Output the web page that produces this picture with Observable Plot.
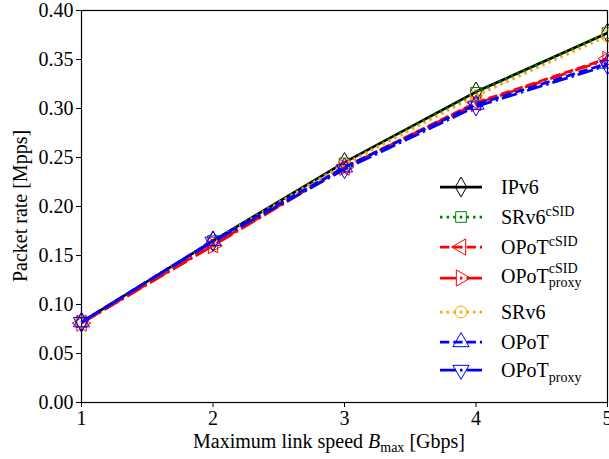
<!DOCTYPE html>
<html><head><meta charset="utf-8">
<script src="https://cdn.jsdelivr.net/npm/d3@7"></script>
<script src="https://cdn.jsdelivr.net/npm/@observablehq/plot@0.6"></script>
<style>
body{margin:0;background:#fff;}
#wrap{position:relative;width:609px;height:459px;overflow:hidden;font-family:"Liberation Serif",serif;color:#000;}
.lrow{position:absolute;left:440px;height:26px;display:flex;align-items:center;font-size:20px;white-space:nowrap;}
.lrow svg{flex:none;}
.lrow .lt{margin-left:17px;line-height:1;}
.lrow sup{font-size:14px;vertical-align:0;position:relative;top:-8px;}
.lrow sub{font-size:14px;vertical-align:0;position:relative;top:5px;}
.ss{display:inline-flex;flex-direction:column;font-size:14px;line-height:14px;vertical-align:middle;position:relative;top:-2px;}
</style></head><body><div id="wrap"></div><script>
// Data
const speeds = [1, 2, 3, 4, 5];
const seriesNames = ["IPv6", "SRv6cSID", "OPoTcSID", "OPoTcSIDproxy", "SRv6", "OPoT", "OPoTproxy"];
const ipv6          = [0.082, 0.165, 0.245, 0.317, 0.377];
const srv6cSID      = [0.082, 0.165, 0.244, 0.316, 0.377];
const opotcSID      = [0.081, 0.161, 0.240, 0.306, 0.351];
const opotcSIDproxy = [0.081, 0.160, 0.240, 0.305, 0.350];
const srv6          = [0.082, 0.164, 0.243, 0.313, 0.374];
const opot          = [0.082, 0.165, 0.240, 0.304, 0.346];
const opotproxy     = [0.082, 0.164, 0.238, 0.302, 0.344];
const yTicks = [0, 0.05, 0.10, 0.15, 0.20, 0.25, 0.30, 0.35, 0.40];
const xTicks = [1, 2, 3, 4, 5];
const legendLabels = [
  "IPv6",
  "SRv6<sup>cSID</sup>",
  "OPoT<sup>cSID</sup>",
  "OPoT<span class=\"ss\"><span>cSID</span><span>proxy</span></span>",
  "SRv6",
  "OPoT",
  "OPoT<sub>proxy</sub>"
];
const values = [ipv6, srv6cSID, opotcSID, opotcSIDproxy, srv6, opot, opotproxy];

// Styles
const styles = [
  {color: "#000000", dash: null,            symbol: "diamond",  rotate: 0},
  {color: "#008000", dash: "2.5,4.1",       symbol: "square",   rotate: 0},
  {color: "#ff0000", dash: "9.3,4",         symbol: "triangle", rotate: -90},
  {color: "#ff0000", dash: "16,4,2.5,4",    symbol: "triangle", rotate: 90},
  {color: "#ffa500", dash: "2.5,4.1",       symbol: "circle",   rotate: 0},
  {color: "#0000ff", dash: "9.3,4",         symbol: "triangle", rotate: 0},
  {color: "#0000ff", dash: "16,4,2.5,4",    symbol: "triangle", rotate: 180}
];
const legendY = [187, 217, 247, 278, 312, 342, 370];

const rows = seriesNames.flatMap((s, i) => speeds.map((x, j) => ({series: s, x, y: values[i][j]})));

const marks = [Plot.frame({stroke: "black", strokeWidth: 1.2})];
seriesNames.forEach((s, i) => {
  const st = styles[i];
  const d = rows.filter(r => r.series === s);
  marks.push(Plot.line(d, {x: "x", y: "y", stroke: st.color, strokeWidth: 2.75,
    strokeDasharray: st.dash || undefined, strokeLinecap: "butt"}));
  marks.push(Plot.dot(d, {x: "x", y: "y", symbol: st.symbol, r: 6, stroke: st.color,
    strokeWidth: 1, fill: "none", rotate: st.rotate}));
});
marks.push(Plot.axisX({ticks: xTicks, tickSize: 5, tickPadding: 3, label: null, tickFormat: d => String(d)}));
marks.push(Plot.axisY({ticks: yTicks, tickSize: 5, tickPadding: 3, label: null, tickFormat: d => d.toFixed(2)}));

const chart = Plot.plot({
  width: 609, height: 459,
  marginLeft: 81, marginRight: 2, marginTop: 10, marginBottom: 57,
  x: {domain: [1, 5]},
  y: {domain: [0, 0.4]},
  style: {fontFamily: "Liberation Serif", fontSize: "20px", color: "black", background: "white", overflow: "visible"},
  marks
});
const wrap = document.getElementById("wrap");
wrap.appendChild(chart);

// Axis labels with sub/italic
const svg = d3.select(chart);
const xl = svg.append("text").attr("x", 329).attr("y", 448).attr("text-anchor", "middle")
  .attr("font-size", 20).attr("fill", "black");
xl.append("tspan").text("Maximum link speed ");
xl.append("tspan").attr("font-style", "italic").text("B");
xl.append("tspan").attr("font-size", 14).attr("dy", 4).text("max");
xl.append("tspan").attr("dy", -4).text(" [Gbps]");
svg.append("text").attr("transform", "translate(27,206) rotate(-90)").attr("text-anchor", "middle")
  .attr("font-size", 20).attr("fill", "black").text("Packet rate [Mpps]");

// Legend
const symMap = {diamond: d3.symbolDiamond, square: d3.symbolSquare, circle: d3.symbolCircle, triangle: d3.symbolTriangle};
seriesNames.forEach((s, i) => {
  const st = styles[i];
  const row = document.createElement("div");
  row.className = "lrow";
  row.style.top = (legendY[i] - 13) + "px";
  const ns = "http://www.w3.org/2000/svg";
  const sv = document.createElementNS(ns, "svg");
  sv.setAttribute("width", 44); sv.setAttribute("height", 26);
  const ln = document.createElementNS(ns, "line");
  ln.setAttribute("x1", 0); ln.setAttribute("x2", 42); ln.setAttribute("y1", 13); ln.setAttribute("y2", 13);
  ln.setAttribute("stroke", st.color); ln.setAttribute("stroke-width", 2.75);
  if (st.dash) ln.setAttribute("stroke-dasharray", st.dash);
  sv.appendChild(ln);
  const p = document.createElementNS(ns, "path");
  p.setAttribute("d", d3.symbol(symMap[st.symbol], Math.PI * 36)());
  p.setAttribute("transform", `translate(21,13) rotate(${st.rotate})`);
  p.setAttribute("fill", "none"); p.setAttribute("stroke", st.color); p.setAttribute("stroke-width", 1);
  sv.appendChild(p);
  row.appendChild(sv);
  const t = document.createElement("span");
  t.className = "lt";
  t.innerHTML = legendLabels[i];
  row.appendChild(t);
  wrap.appendChild(row);
});
</script></body></html>
